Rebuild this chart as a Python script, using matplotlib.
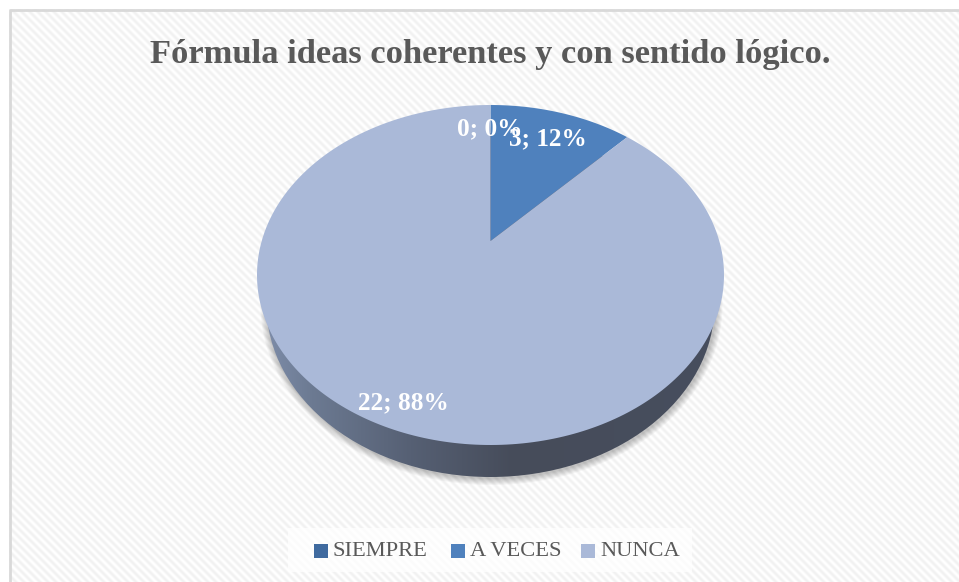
import numpy as np
import matplotlib
matplotlib.use('Agg')
import matplotlib.pyplot as plt
from matplotlib.patches import Ellipse, Polygon, Rectangle

title = 'Fórmula ideas coherentes y con sentido lógico.'
categories = ['SIEMPRE', 'A VECES', 'NUNCA']
values = [0, 3, 22]
colors = ['#3f6a9f', '#4f81bd', '#aab9d8']

W, H = 959, 582
cx, cy, rx, ry = 490.5, 275, 233.5, 170
# lower rim of the pie, smaller because of the perspective
cy2, rx2, ry2 = 305, 224, 172
tilt = 0.2  # pie centre sits above the ellipse centre


def disc_point(turn):
    # position on the tilted pie for a fraction of the full circle, clockwise from top
    a = 2 * np.pi * np.asarray(turn)
    u, v = np.sin(a), np.cos(a)
    d = 1 + tilt * v
    return cx + rx * u * np.sqrt(1 - tilt**2) / d, cy - ry * (v + tilt) / d


fig = plt.figure(figsize=(W / 100, H / 100), dpi=100)
ax = fig.add_axes([0, 0, 1, 1])

# striped background
yy, xx = np.mgrid[0:H, 0:W]
stripes = 0.5 + 0.5 * np.sin(2 * np.pi * (xx - yy) / 8.0)
ax.imshow(1 - 0.055 * stripes, cmap='gray', vmin=0, vmax=1, extent=(0, W, H, 0),
          interpolation='bilinear', zorder=0, aspect='auto')
ax.add_patch(Rectangle((-1, -1), 10, H + 2, fc='white', ec='none', zorder=1))
ax.add_patch(Rectangle((-1, -1), W + 2, 10, fc='white', ec='none', zorder=1))
ax.plot([9.5, 9.5, W + 1], [H + 1, 9.5, 9.5], color='#d9d9d9', lw=2, zorder=2)

# soft shadow below the side wall
for grow in np.linspace(7, 1, 7):
    ax.add_patch(Ellipse((cx + 1, cy2 + 1), 2 * (rx2 + grow), 2 * (ry2 + grow),
                         fc='black', alpha=0.035, ec='none', zorder=3))

# side wall with horizontal gradient
wall = Ellipse((cx, cy2), 2 * rx2, 2 * ry2, fc='none', ec='none', zorder=4)
ax.add_patch(wall)
grad_x = np.array([0, 0.1, 0.32, 0.55, 1.0])
grad_c = np.array([[125, 140, 168], [108, 122, 146], [86, 96, 116], [70, 76, 90], [71, 78, 94]]) / 255
pos = np.linspace(0, 1, 480)
img = np.stack([np.interp(pos, grad_x, grad_c[:, k]) for k in range(3)], axis=-1)[None, :, :]
im = ax.imshow(img, extent=(cx - rx2, cx + rx2, cy2 + ry2, cy2 - ry2), aspect='auto', zorder=4)
im.set_clip_path(wall)

# slices from the values, clockwise from the top
total = sum(values)
ends = np.cumsum(values) / total
starts = np.r_[0, ends[:-1]]
apex = (cx, cy - ry * tilt)
for start, end, col, val in zip(starts, ends, colors, values):
    if val == 0:
        continue
    x, y = disc_point(np.linspace(start, end, 300))
    ax.add_patch(Polygon(np.column_stack([np.r_[apex[0], x], np.r_[apex[1], y]]),
                         fc=col, ec='none', zorder=5))

serif = ['Liberation Serif', 'DejaVu Serif']

# data labels
label_pos = [(490, 129), (548, 139), (403, 403)]
for val, lp in zip(values, label_pos):
    ax.text(lp[0], lp[1], f'{val}; {round(100 * val / total)}%', color='white', fontsize=18.2,
            fontweight='bold', family=serif, ha='center', va='center', zorder=6)

ax.text(490.5, 54, title, color='#595959', fontsize=24.8, fontweight='bold', family=serif,
        ha='center', va='center', zorder=6)

# legend
ax.add_patch(Rectangle((288, 528), 404, 44, fc='white', alpha=0.75, ec='none', zorder=5))
for name, col, bx, tx in zip(categories, colors, [314, 451, 581], [333, 470, 600]):
    ax.add_patch(Rectangle((bx, 544), 14, 14, fc=col, ec='none', zorder=6))
    ax.text(tx, 551, name, color='#595959', fontsize=16.2, family=serif, ha='left', va='center', zorder=6)

ax.set_xlim(0, W)
ax.set_ylim(H, 0)
ax.axis('off')

fig.savefig('out.png', dpi=100)
